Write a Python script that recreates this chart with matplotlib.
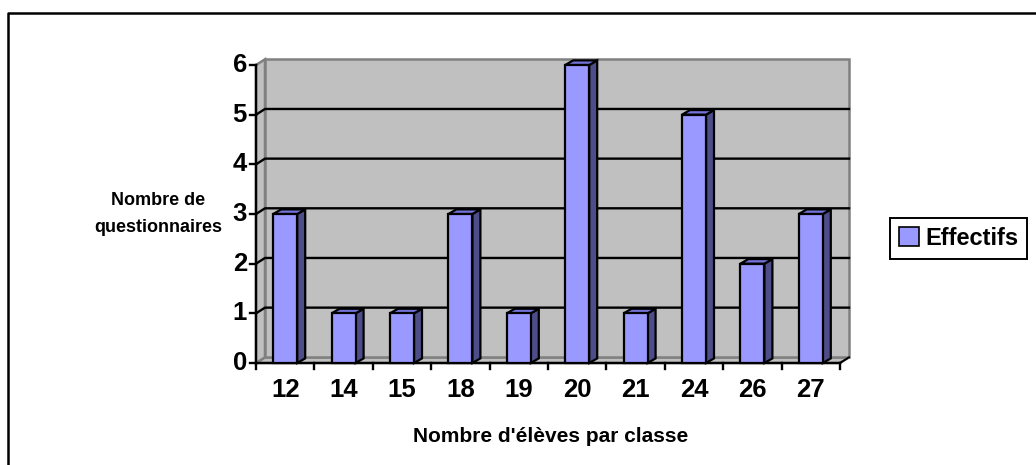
import matplotlib
matplotlib.use("Agg")
import matplotlib.pyplot as plt
from matplotlib.patches import Polygon, Patch
from matplotlib.lines import Line2D

categories = ["12", "14", "15", "18", "19", "20", "21", "24", "26", "27"]
effectifs = [3, 1, 1, 3, 1, 6, 1, 5, 2, 3]
y_ticks = [0, 1, 2, 3, 4, 5, 6]

W, H = 1036, 465
FRONT = "#9999FF"
SIDE = "#4D4D8A"
TOP = "#7373D9"
WALL = "#C0C0C0"
WALL_EDGE = "#808080"

fig = plt.figure(figsize=(W / 100, H / 100), dpi=100)
plt.rcParams["font.family"] = ["Liberation Sans", "DejaVu Sans"]

# plot area in pixels: x 256..840, y 363 (0) .. 65 (6)
ax = fig.add_axes([256 / W, (H - 363) / H, 584 / W, 298 / H])
ax.set_xlim(0, len(categories))
ax.set_ylim(0, 6)
ax.axis("off")

px_x = len(categories) / 584.0
px_y = 6 / 298.0
wdx, wdy = 9 * px_x, 5.7 * px_y      # wall depth
bdx, bdy = 8 * px_x, 4.6 * px_y      # bar depth
n = len(categories)
ymax = y_ticks[-1]

# floor, side wall, back wall
for pts in [
    [(0, 0), (n, 0), (n + wdx, wdy), (wdx, wdy)],
    [(0, 0), (wdx, wdy), (wdx, ymax + wdy), (0, ymax)],
    [(wdx, wdy), (n + wdx, wdy), (n + wdx, ymax + wdy), (wdx, ymax + wdy)],
]:
    ax.add_patch(Polygon(pts, closed=True, facecolor=WALL, edgecolor=WALL_EDGE,
                         lw=1.8, clip_on=False, zorder=1))

# gridlines on side and back walls
for v in y_ticks[1:-1]:
    ax.add_line(Line2D([0, wdx, n + wdx], [v, v + wdy, v + wdy], color="black",
                       lw=1.7, clip_on=False, zorder=2))
ax.add_line(Line2D([n, n + wdx], [0, wdy], color="black", lw=1.4, clip_on=False, zorder=2))

# axes lines and ticks
ax.add_line(Line2D([0, 0], [0, ymax], color="black", lw=1.7, clip_on=False, zorder=3))
ax.add_line(Line2D([0, n], [0, 0], color="black", lw=1.7, clip_on=False, zorder=3))
for v in y_ticks:
    ax.add_line(Line2D([-6 * px_x, 0], [v, v], color="black", lw=1.7, clip_on=False, zorder=3))
    ax.text(-9 * px_x, v, str(v), ha="right", va="center", fontsize=18.5,
            fontweight="bold")
for i in range(n + 1):
    ax.add_line(Line2D([i, i], [0, -6 * px_y], color="black", lw=1.7, clip_on=False, zorder=3))
for i, lab in enumerate(categories):
    ax.text(i + 0.5, -27 * px_y, lab, ha="center", va="center", fontsize=18.5,
            fontweight="bold")

# bars
bw = 24 * px_x
for i, v in enumerate(effectifs):
    x0 = i + 0.5 - bw / 2
    x1 = x0 + bw
    ax.add_patch(Polygon([(x1, 0), (x1 + bdx, bdy), (x1 + bdx, v + bdy), (x1, v)],
                         closed=True, facecolor=SIDE, edgecolor="black", lw=1.6,
                         clip_on=False, zorder=4))
    ax.add_patch(Polygon([(x0, v), (x1, v), (x1 + bdx, v + bdy), (x0 + bdx, v + bdy)],
                         closed=True, facecolor=TOP, edgecolor="black", lw=1.6,
                         clip_on=False, zorder=4))
ax.bar([i + 0.5 for i in range(n)], effectifs, width=bw, color=FRONT,
       edgecolor="black", lw=1.6, zorder=5, clip_on=False)

# titles
fig.text(551 / W, 1 - 436 / H, "Nombre d'élèves par classe", ha="center", va="center",
         fontsize=15, fontweight="bold")
fig.text(158 / W, 1 - 214 / H, "Nombre de\nquestionnaires", ha="center", va="center",
         fontsize=13, fontweight="bold", linespacing=1.75)

# legend
fig.legend(handles=[Patch(facecolor=FRONT, edgecolor="black", lw=1.2, label="Effectifs")],
           loc="center", bbox_to_anchor=(958.5 / W, 1 - 238.5 / H), fancybox=False,
           edgecolor="black", framealpha=1, prop={"size": 17, "weight": "bold"},
           handlelength=0.85, handleheight=0.85, handletextpad=0.25, borderpad=0.4,
           borderaxespad=0).get_frame().set_linewidth(1.4)

# outer chart border (top and left visible)
fig.add_artist(Line2D([8 / W, 8 / W, 1], [0, 1 - 13 / H, 1 - 13 / H],
                      transform=fig.transFigure, color="black", lw=1.8))

fig.savefig("out.png", dpi=100)
